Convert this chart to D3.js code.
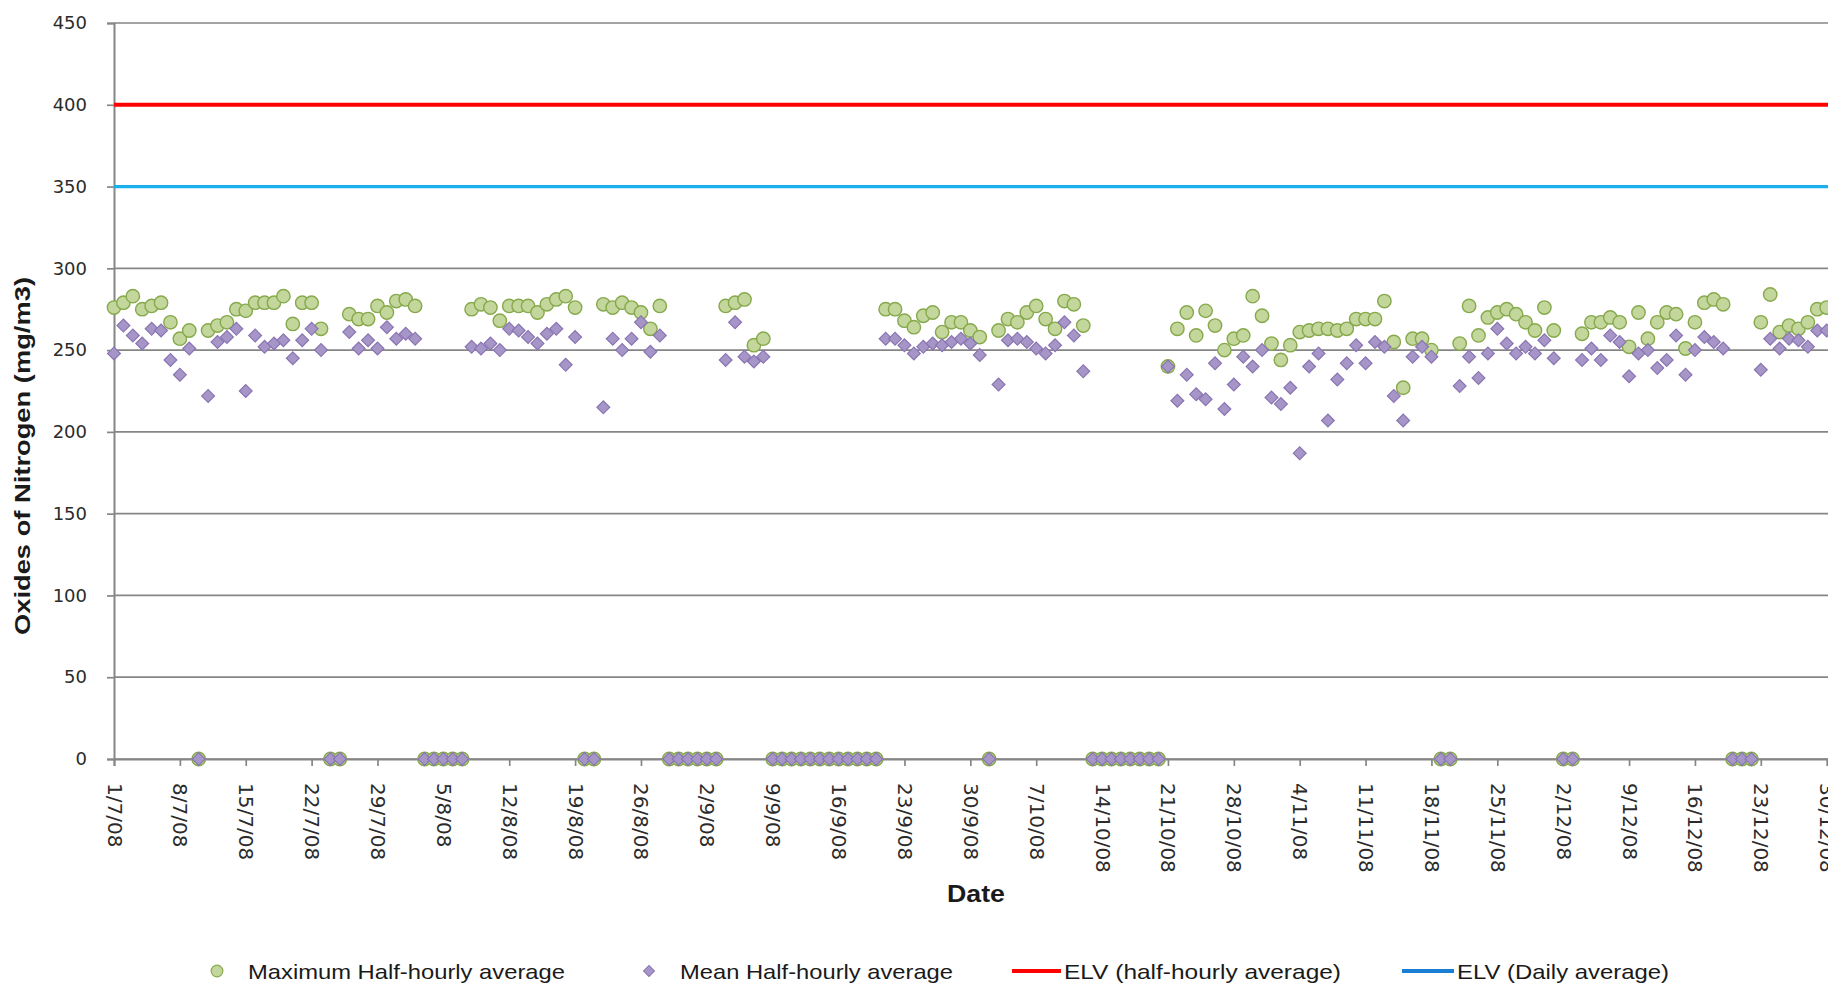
<!DOCTYPE html>
<html>
<head>
<meta charset="utf-8">
<script src="https://cdn.jsdelivr.net/npm/d3@7"></script>
<style>
  html, body { margin: 0; padding: 0; background: #ffffff; }
  svg { display: block; }
</style>
</head>
<body>
<svg id="chart" width="1828" height="984"></svg>
<script>
// ---------------- DATA ----------------
const startDate = "1/7/08";   // first day of the series (one value per day)
const tickLabels = ["1/7/08","8/7/08","15/7/08","22/7/08","29/7/08","5/8/08","12/8/08","19/8/08",
  "26/8/08","2/9/08","9/9/08","16/9/08","23/9/08","30/9/08","7/10/08","14/10/08","21/10/08",
  "28/10/08","4/11/08","11/11/08","18/11/08","25/11/08","2/12/08","9/12/08","16/12/08",
  "23/12/08","30/12/08"];
const yTicks = [0, 50, 100, 150, 200, 250, 300, 350, 400, 450];

// Maximum half-hourly average, one per day from 1/7/08 to 30/12/08
const maxHalfHourly = [
  276,279,283,275,277,279,267,257,262,0,
  262,265,267,275,274,279,279,279,283,266,
  279,279,263,0,0,272,269,269,277,273,
  280,281,277,0,0,0,0,0,275,278,
  276,268,277,277,277,273,278,281,283,276,
  0,0,278,276,279,276,273,263,277,0,
  0,0,0,0,0,277,279,281,253,257,
  0,0,0,0,0,0,0,0,0,0,
  0,0,275,275,268,264,271,273,261,267,
  267,262,258,0,262,269,267,273,277,269,
  263,280,278,265,0,0,0,0,0,0,
  0,0,240,263,273,259,274,265,250,257,
  259,283,271,254,244,253,261,262,263,263,
  262,263,269,269,269,280,255,227,257,257,
  250,0,0,254,277,259,270,273,275,272,
  267,262,276,262,0,0,260,267,267,270,
  267,252,273,257,267,273,272,251,267,279,
  281,278,0,0,0,267,284,261,265,263,
  267,275,276
];
// Mean half-hourly average, same days
const meanHalfHourly = [
  248,265,259,254,263,262,244,235,251,0,
  222,255,258,263,225,259,252,254,256,245,
  256,263,250,0,0,261,251,256,251,264,
  257,260,257,0,0,0,0,0,252,251,
  254,250,263,262,258,254,260,263,241,258,
  0,0,215,257,250,257,267,249,259,0,
  0,0,0,0,0,244,267,246,243,246,
  0,0,0,0,0,0,0,0,0,0,
  0,0,257,257,253,248,252,254,253,255,
  257,254,247,0,229,256,257,255,251,248,
  253,267,259,237,0,0,0,0,0,0,
  0,0,240,219,235,223,220,242,214,229,
  246,240,250,221,217,227,187,240,248,207,
  232,242,253,242,255,252,222,207,246,252,
  246,0,0,228,246,233,248,263,254,248,
  252,248,256,245,0,0,244,251,244,259,
  255,234,248,250,239,244,259,235,250,258,
  255,251,0,0,0,238,257,251,257,256,
  252,262,262
];
const limitHalfHourly = 400;
const limitDaily = 350;

const seriesNames = ["Maximum Half-hourly average", "Mean Half-hourly average",
  "ELV (half-hourly average)", "ELV (Daily average)"];

// ---------------- CHART ----------------
(function () {
const svg = d3.select("#chart");
const parse = d3.utcParse("%d/%m/%y");
const t0 = parse(startDate);
const dates = maxHalfHourly.map((_, i) => d3.utcDay.offset(t0, i));

const plotLeft = 114, plotTop = 23, plotBottom = 759;
const x = d3.scaleUtc()
  .domain([t0, d3.utcDay.offset(t0, 184)])
  .range([plotLeft, plotLeft + 1731.5]);
const y = d3.scaleLinear().domain([0, 450]).range([plotBottom, plotTop]);

const gridColor = "#868686";

// horizontal gridlines
svg.append("g").selectAll("line").data(yTicks).join("line")
  .attr("x1", plotLeft).attr("x2", x.range()[1])
  .attr("y1", d => y(d)).attr("y2", d => y(d))
  .attr("stroke", gridColor).attr("stroke-width", 1.7);

// y axis
const yAxis = svg.append("g").attr("transform", `translate(${plotLeft},0)`)
  .call(d3.axisLeft(y).tickValues(yTicks).tickSize(7).tickPadding(20));
yAxis.select(".domain").attr("stroke", gridColor).attr("stroke-width", 2);
yAxis.selectAll(".tick line").attr("stroke", gridColor).attr("stroke-width", 1.7);
yAxis.selectAll(".tick text")
  .attr("font-family", "DejaVu Sans, Verdana, sans-serif")
  .attr("font-size", 18).attr("fill", "#2b2b2b");

// x axis
const tickDates = tickLabels.map(parse);
const xAxis = svg.append("g").attr("transform", `translate(0,${plotBottom})`)
  .call(d3.axisBottom(x).tickValues(tickDates).tickSize(7)
    .tickFormat((d, i) => tickLabels[i]));
xAxis.select(".domain").attr("stroke", gridColor).attr("stroke-width", 2);
xAxis.selectAll(".tick line").attr("stroke", gridColor).attr("stroke-width", 1.7);
xAxis.selectAll(".tick text")
  .attr("font-family", "DejaVu Sans, Verdana, sans-serif")
  .attr("font-size", 20).attr("fill", "#2b2b2b")
  .attr("text-anchor", "start")
  .attr("dominant-baseline", "central")
  .attr("dy", null)
  .attr("y", 0)
  .attr("transform", "translate(0,24) rotate(90)");

// Max series: circles
svg.append("g").selectAll("circle").data(maxHalfHourly).join("circle")
  .attr("cx", (d, i) => x(dates[i]))
  .attr("cy", d => y(d))
  .attr("r", 6.7)
  .attr("fill", "#c3d69b")
  .attr("stroke", "#86a94c")
  .attr("stroke-width", 1.4);

// Mean series: diamonds
const diamond = d3.symbol().type(d3.symbolSquare).size(82);
svg.append("g").selectAll("path").data(meanHalfHourly).join("path")
  .attr("d", diamond)
  .attr("transform", (d, i) => `translate(${x(dates[i])},${y(d)}) rotate(45)`)
  .attr("fill", "#a696c8")
  .attr("stroke", "#8a74b2")
  .attr("stroke-width", 1.2);

// limit lines
svg.append("line")
  .attr("x1", plotLeft).attr("x2", x.range()[1])
  .attr("y1", y(limitHalfHourly)).attr("y2", y(limitHalfHourly))
  .attr("stroke", "#ff0000").attr("stroke-width", 4);
svg.append("line")
  .attr("x1", plotLeft).attr("x2", x.range()[1])
  .attr("y1", y(limitDaily)).attr("y2", y(limitDaily))
  .attr("stroke", "#1ab0ec").attr("stroke-width", 3.2);

// axis titles
svg.append("text")
  .attr("transform", `translate(30,${(277 + 635) / 2}) rotate(-90)`)
  .attr("text-anchor", "middle")
  .attr("font-family", "Liberation Sans, Arial, sans-serif")
  .attr("font-weight", "bold").attr("font-size", 22)
  .attr("textLength", 358).attr("lengthAdjust", "spacingAndGlyphs")
  .attr("fill", "#1a1a1a")
  .text("Oxides of Nitrogen (mg/m3)");

svg.append("text")
  .attr("x", 947).attr("y", 902)
  .attr("font-family", "Liberation Sans, Arial, sans-serif")
  .attr("font-weight", "bold").attr("font-size", 23)
  .attr("textLength", 58).attr("lengthAdjust", "spacingAndGlyphs")
  .attr("fill", "#1a1a1a")
  .text("Date");

// legend
const legY = 971;
const leg = svg.append("g")
  .attr("font-family", "Liberation Sans, Arial, sans-serif")
  .attr("font-size", 21).attr("fill", "#1a1a1a");
leg.append("circle").attr("cx", 217).attr("cy", legY).attr("r", 5.8)
  .attr("fill", "#c3d69b").attr("stroke", "#86a94c").attr("stroke-width", 1.2);
leg.append("path").attr("d", d3.symbol().type(d3.symbolSquare).size(60))
  .attr("transform", `translate(649,${legY}) rotate(45)`)
  .attr("fill", "#a696c8").attr("stroke", "#8a74b2").attr("stroke-width", 1);
leg.append("line").attr("x1", 1012).attr("x2", 1061).attr("y1", legY).attr("y2", legY)
  .attr("stroke", "#ff0000").attr("stroke-width", 4);
leg.append("line").attr("x1", 1402).attr("x2", 1454).attr("y1", legY).attr("y2", legY)
  .attr("stroke", "#1a7fd4").attr("stroke-width", 4);
const legText = [
  {x: 248, w: 317}, {x: 680, w: 273}, {x: 1064, w: 277}, {x: 1457, w: 212}
];
leg.selectAll("text.l").data(seriesNames).join("text")
  .attr("class", "l")
  .attr("x", (d, i) => legText[i].x)
  .attr("y", legY)
  .attr("dy", "0.36em")
  .attr("textLength", (d, i) => legText[i].w)
  .attr("lengthAdjust", "spacingAndGlyphs")
  .text(d => d);
})();
</script>
</body>
</html>
